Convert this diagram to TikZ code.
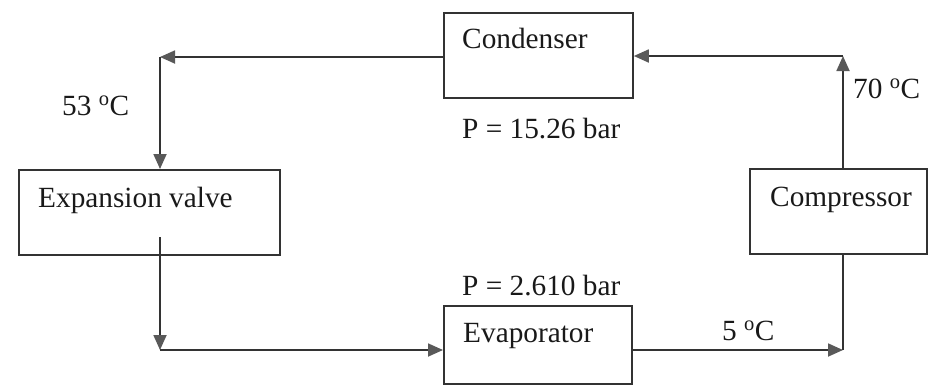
\documentclass[tikz,border=0pt]{standalone}
\usepackage{fontspec}
\setmainfont{Liberation Serif}
\usetikzlibrary{arrows.meta}
\begin{document}
\begin{tikzpicture}[x=1pt,y=-1pt,
  box/.style={draw=black!80, line width=1.8pt, rectangle, inner sep=0pt, anchor=north west},
  lbl/.style={inner sep=0pt, anchor=base west, font=\fontsize{29.3}{32}\selectfont, text=black!90},
  pipe/.style={draw=black!80, line width=1.8pt},
  flow/.style={pipe, -{Triangle[length=15pt,width=13pt,fill=black!65,color=black!65]}}]
\useasboundingbox (0,0) rectangle (928,389);
% boxes
\node[box, minimum width=189pt, minimum height=85pt] (cond) at (443,12) {};
\node[box, minimum width=261pt, minimum height=85pt] (exp) at (18,169) {};
\node[box, minimum width=177pt, minimum height=85pt] (comp) at (749,168) {};
\node[box, minimum width=188pt, minimum height=78pt] (evap) at (443,305) {};
% texts
\node[lbl] (tcond) at (462,48) {Condenser};
\node[lbl] (pcond) at (462,138) {P = 15.26 bar};
\node[lbl] (t53) at (62,115) {53 \textsuperscript{o}C};
\node[lbl] (t70) at (853,98) {70 \textsuperscript{o}C};
\node[lbl] (tcomp) at (770,206) {Compressor};
\node[lbl] (texp) at (38,207) {Expansion valve};
\node[lbl] (pevap) at (462,295) {P = 2.610 bar};
\node[lbl] (tevap) at (463,342) {Evaporator};
\node[lbl] (t5) at (722,340) {5 \textsuperscript{o}C};
% connector corners
\coordinate (c1) at (160,57);
\coordinate (e1) at (160,237);
\coordinate (c2) at (160,350);
\coordinate (c3) at (843,350);
\coordinate (c4) at (843,56);
% connectors
\draw[flow] (cond.west |- c1) -- (c1);
\draw[flow] (c1) -- (c1 |- exp.north);
\draw[flow] (e1) -- (c2);
\draw[flow] (c2) -- (c2 -| evap.west);
\draw[flow] (c2 -| evap.east) -- (c3);
\draw[pipe] (c3) -- (c3 |- comp.south);
\draw[flow] (c3 |- comp.north) -- (c4);
\draw[flow] (c4) -- (c4 -| cond.east);
\end{tikzpicture}
\end{document}
